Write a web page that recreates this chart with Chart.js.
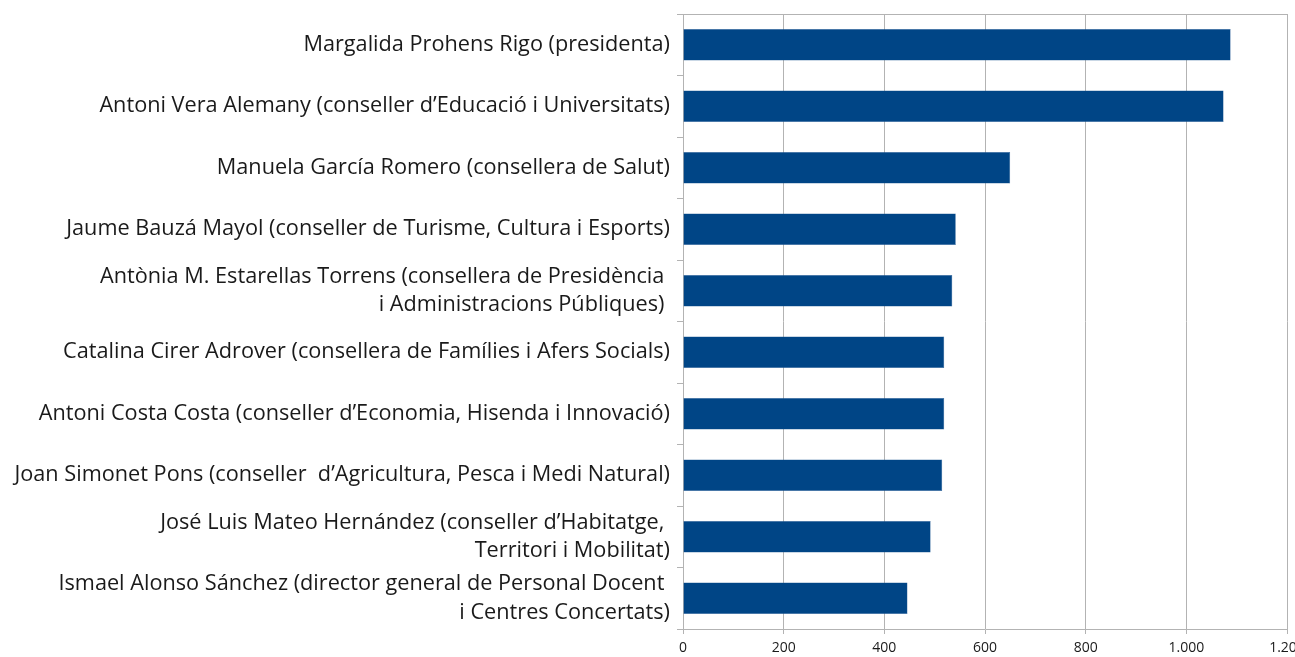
<!DOCTYPE html>
<html>
<head>
<meta charset="utf-8">
<script src="https://cdn.jsdelivr.net/npm/chart.js@4.4.1/dist/chart.umd.min.js"></script>
<style>
  html, body { margin: 0; padding: 0; background: #fff; overflow: hidden; }
  #wrap { width: 1295px; height: 657px; position: relative; }
</style>
</head>
<body>
<div id="wrap"><canvas id="myChart"></canvas></div>
<script>
// Noms dels càrrecs (les llargues en dues línies)
const carrecs = [
    'Margalida Prohens Rigo (presidenta)',
    'Antoni Vera Alemany (conseller d’Educació i Universitats)',
    'Manuela García Romero (consellera de Salut)',
    'Jaume Bauzá Mayol (conseller de Turisme, Cultura i Esports)',
    ['Antònia M. Estarellas Torrens (consellera de Presidència ', 'i Administracions Públiques) '],
    'Catalina Cirer Adrover (consellera de Famílies i Afers Socials)',
    'Antoni Costa Costa (conseller d’Economia, Hisenda i Innovació)',
    'Joan Simonet Pons (conseller  d’Agricultura, Pesca i Medi Natural)',
    ['José Luis Mateo Hernández (conseller d’Habitatge, ', 'Territori i Mobilitat)'],
    ['Ismael Alonso Sánchez (director general de Personal Docent ', 'i Centres Concertats)']
];
const valors = [1088, 1074, 650, 542, 535, 519, 519, 515, 492, 446];
const xMin = 0;
const xMax = 1200;
const xStep = 200;

// format amb punt de milers (1.000)
function formatMilers(v) {
    return String(v).replace(/\B(?=(\d{3})+(?!\d))/g, '.');
}

// línia superior del marc
const marcSuperior = {
    id: 'marcSuperior',
    afterDatasetsDraw(chart) {
        const a = chart.chartArea;
        const ctx = chart.ctx;
        ctx.save();
        ctx.strokeStyle = '#b3b3b3';
        ctx.lineWidth = 1;
        ctx.beginPath();
        ctx.moveTo(a.left, a.top + 0.5);
        ctx.lineTo(a.right, a.top + 0.5);
        ctx.stroke();
        ctx.restore();
    }
};

const ctx = document.getElementById('myChart').getContext('2d');
const myChart = new Chart(ctx, {
    type: 'bar',
    data: {
        labels: carrecs,
        datasets: [{
            data: valors,
            backgroundColor: '#004586',
            borderColor: '#2a5f97',
            borderWidth: 0.5,
            categoryPercentage: 1,
            barPercentage: 0.51
        }]
    },
    options: {
        indexAxis: 'y',
        responsive: true,
        maintainAspectRatio: false,
        animation: false,
        layout: { padding: { top: 14, right: 8, left: 0, bottom: 0 } },
        plugins: {
            legend: { display: false },
            tooltip: { enabled: false }
        },
        scales: {
            x: {
                min: xMin,
                max: xMax,
                ticks: {
                    stepSize: xStep,
                    padding: 6,
                    color: '#1a1a1a',
                    font: { family: 'Open Sans', size: 14 },
                    callback: v => formatMilers(v),
                    maxRotation: 0
                },
                grid: { color: '#b3b3b3', tickLength: 5, lineWidth: 1 },
                border: { color: '#b3b3b3' },
                afterFit: s => { s.paddingRight = 0; s.paddingLeft = 0; s.height = 28; }
            },
            y: {
                ticks: {
                    padding: 7,
                    color: '#1a1a1a',
                    font: { family: 'Open Sans', size: 21.7, lineHeight: 1.3 }
                },
                grid: { drawOnChartArea: false, color: '#b3b3b3', tickLength: 6, offset: true },
                border: { color: '#b3b3b3' },
                afterFit: s => { s.width = 683; s.paddingTop = 0; s.paddingBottom = 0; }
            }
        }
    },
    plugins: [marcSuperior]
});
</script>
</body>
</html>
